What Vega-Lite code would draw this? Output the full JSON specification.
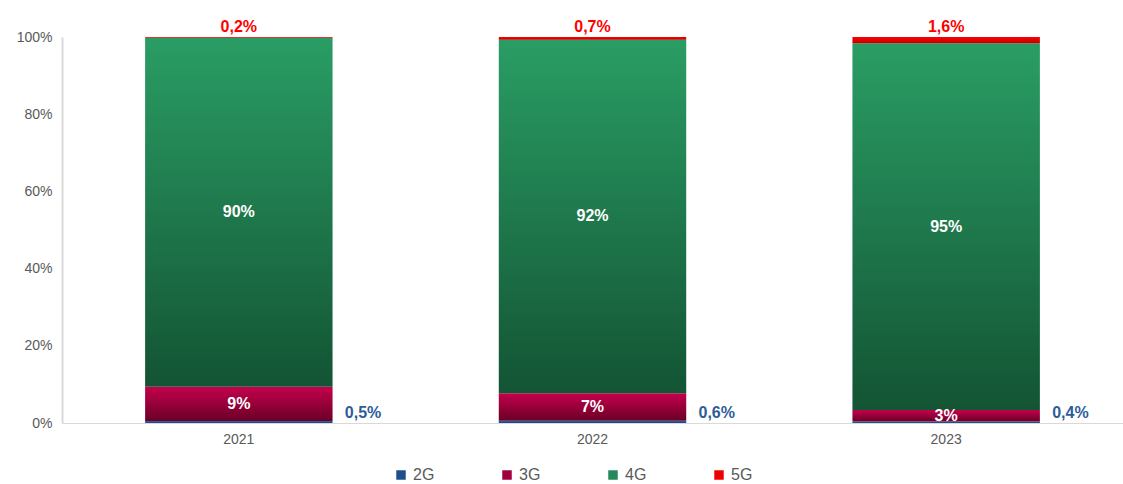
{
  "$schema": "https://vega.github.io/schema/vega-lite/v6.json",
  "autosize": "none",
  "width": 1061,
  "height": 386,
  "padding": {"left": 62, "top": 37, "right": 0, "bottom": 61},
  "background": "white",
  "config": {
    "view": {"stroke": null},
    "font": "Liberation Sans",
    "locale": {"number": {"decimal": ",", "thousands": ".", "grouping": [3], "currency": ["", " €"]}}
  },
  "data": {
    "values": [
      {"year": "2021", "tech": "2G", "share": 0.005},
      {"year": "2021", "tech": "3G", "share": 0.089},
      {"year": "2021", "tech": "4G", "share": 0.904},
      {"year": "2021", "tech": "5G", "share": 0.002},
      {"year": "2022", "tech": "2G", "share": 0.006},
      {"year": "2022", "tech": "3G", "share": 0.071},
      {"year": "2022", "tech": "4G", "share": 0.916},
      {"year": "2022", "tech": "5G", "share": 0.007},
      {"year": "2023", "tech": "2G", "share": 0.004},
      {"year": "2023", "tech": "3G", "share": 0.030},
      {"year": "2023", "tech": "4G", "share": 0.950},
      {"year": "2023", "tech": "5G", "share": 0.016}
    ]
  },
  "transform": [
    {"stack": "share", "groupby": ["year"], "sort": [{"field": "tech", "order": "ascending"}], "as": ["y0", "y1"]},
    {"calculate": "(datum.y0 + datum.y1) / 2", "as": "ymid"}
  ],
  "encoding": {
    "x": {
      "field": "year", "type": "nominal", "title": null,
      "scale": {"paddingInner": 0.47, "paddingOuter": 0.235},
      "axis": {"labelAngle": 0, "domainColor": "#d9d9d9", "ticks": false, "labelColor": "#595959", "labelFontSize": 14, "labelPadding": 9, "labelFont": "Liberation Sans"}
    }
  },
  "layer": [
    {
      "mark": {"type": "bar"},
      "encoding": {
        "y": {
          "field": "y0", "type": "quantitative", "title": null,
          "scale": {"domain": [0, 1]},
          "axis": {"format": ".0%", "values": [0, 0.2, 0.4, 0.6, 0.8, 1], "grid": false, "ticks": false, "domainColor": "#d9d9d9", "domainWidth": 2, "labelColor": "#595959", "labelFontSize": 14, "labelPadding": 10}
        },
        "y2": {"field": "y1"},
        "color": {
          "condition": [
            {"test": "datum.tech === '4G'", "value": {"gradient": "linear", "x1": 0, "y1": 0, "x2": 0, "y2": 1, "stops": [{"offset": 0, "color": "#2a9d64"}, {"offset": 1, "color": "#135434"}]}},
            {"test": "datum.tech === '3G'", "value": {"gradient": "linear", "x1": 0, "y1": 0, "x2": 0, "y2": 1, "stops": [{"offset": 0, "color": "#c4004c"}, {"offset": 1, "color": "#6a0026"}]}},
            {"test": "datum.tech === '5G'", "value": {"gradient": "linear", "x1": 0, "y1": 0, "x2": 0, "y2": 1, "stops": [{"offset": 0, "color": "#ff0000"}, {"offset": 1, "color": "#c00000"}]}},
            {"test": "datum.tech === '2G'", "value": {"gradient": "linear", "x1": 0, "y1": 0, "x2": 0, "y2": 1, "stops": [{"offset": 0, "color": "#2f66b0"}, {"offset": 1, "color": "#1c3f7a"}]}}
          ],
          "field": "tech", "type": "nominal", "title": null,
          "scale": {"domain": ["2G", "3G", "4G", "5G"], "range": ["#1f4e8c", "#a0003c", "#23895a", "#ee0000"]},
          "legend": {
            "orient": "none", "direction": "horizontal", "legendX": 331, "legendY": 430,
            "symbolType": "square", "symbolSize": 90, "symbolStrokeWidth": 0,
            "labelFontSize": 16, "labelColor": "#595959", "columnPadding": 64, "labelOffset": 4
          }
        }
      }
    },
    {
      "transform": [{"filter": "datum.tech === '3G' || datum.tech === '4G'"}],
      "mark": {"type": "text", "color": "white", "fontWeight": "bold", "fontSize": 16, "baseline": "middle"},
      "encoding": {
        "y": {"field": "ymid", "type": "quantitative"},
        "text": {"field": "share", "type": "quantitative", "format": ".0%"}
      }
    },
    {
      "transform": [{"filter": "datum.tech === '5G'"}],
      "mark": {"type": "text", "color": "#ff0000", "fontWeight": "bold", "fontSize": 16, "baseline": "middle", "dy": -10},
      "encoding": {
        "y": {"field": "y1", "type": "quantitative"},
        "text": {"field": "share", "type": "quantitative", "format": ".1%"}
      }
    },
    {
      "transform": [{"filter": "datum.tech === '2G'"}],
      "mark": {"type": "text", "color": "#2e5c9a", "fontWeight": "bold", "fontSize": 16, "baseline": "middle", "align": "left", "dx": 106, "dy": -10},
      "encoding": {
        "y": {"field": "y0", "type": "quantitative"},
        "text": {"field": "share", "type": "quantitative", "format": ".1%"}
      }
    }
  ]
}
